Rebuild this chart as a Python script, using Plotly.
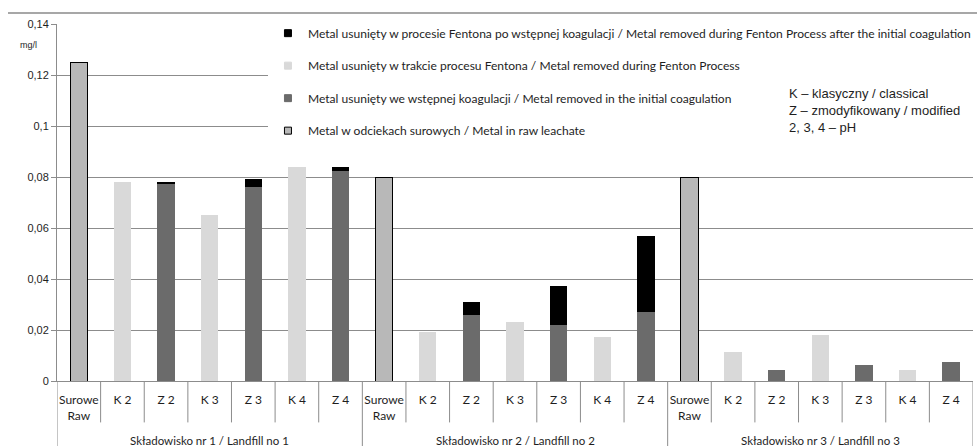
import plotly.graph_objects as go

# ---- data -------------------------------------------------------------
groups = ["Składowisko nr 1 / Landfill no 1",
          "Składowisko nr 2 / Landfill no 2",
          "Składowisko nr 3 / Landfill no 3"]
categories = ["Surowe<br>Raw", "K 2", "Z 2", "K 3", "Z 3", "K 4", "Z 4"]

# metal in raw leachate, one value per landfill (mg/l)
raw_leachate = [0.125, 0.080, 0.080]
# K variants (pH 2, 3, 4): metal removed during the Fenton process
fenton_only = [[0.0782, 0.0651, 0.0841],
               [0.0191, 0.0231, 0.0172],
               [0.0113, 0.0180, 0.0042]]
# Z variants (pH 2, 3, 4): metal removed in the initial coagulation
coagulation = [[0.0772, 0.0762, 0.0824],
               [0.0258, 0.0219, 0.0270],
               [0.0042, 0.0062, 0.0073]]
# Z variants (pH 2, 3, 4): metal removed by Fenton after the coagulation
fenton_after = [[0.0010, 0.0031, 0.0017],
                [0.0051, 0.0153, 0.0299],
                [None, None, None]]

y_ticks = [0, 0.02, 0.04, 0.06, 0.08, 0.10, 0.12, 0.14]
y_tick_labels = ["0", "0,02", "0,04", "0,06", "0,08", "0,1", "0,12", "0,14"]

legend_names = {
    "after": "Metal usunięty w procesie Fentona po wstępnej koagulacji / "
             "Metal removed during Fenton Process after the initial coagulation",
    "fenton": "Metal usunięty w trakcie procesu Fentona / Metal removed during Fenton Process",
    "coag": "Metal usunięty we wstępnej koagulacji / Metal removed in the initial coagulation",
    "raw": "Metal w odciekach surowych / Metal in raw leachate",
}
notes = ["K – klasyczny / classical",
         "Z – zmodyfikowany / modified",
         "2, 3, 4 – pH"]

# ---- styling ----------------------------------------------------------
C_RAW, C_LIGHT, C_DARK, C_BLACK = "#b8b8b8", "#d9d9d9", "#6b6b6b", "#000000"
C_LINE = "#8c8c8c"
LABEL_FONT = "Lato, 'Open Sans', sans-serif"
ARIAL = "'Liberation Sans', Arial, sans-serif"
TEXT = "#1e1e1e"

# ---- per-position series ----------------------------------------------
n_cat = len(categories)
xs, tick_text = [], []
raw_y, light_y, dark_y, black_y = [], [], [], []
for g in range(len(groups)):
    for c, cat in enumerate(categories):
        xs.append(g * n_cat + c)
        tick_text.append(cat)
        raw_y.append(raw_leachate[g] if c == 0 else None)
        is_k = c > 0 and c % 2 == 1
        is_z = c > 0 and c % 2 == 0
        k = (c - 1) // 2
        light_y.append(fenton_only[g][k] if is_k else None)
        dark_y.append(coagulation[g][k] if is_z else None)
        black_y.append(fenton_after[g][k] if is_z else None)

BAR_W = 0.4
fig = go.Figure()
fig.add_bar(x=xs, y=raw_y, width=BAR_W, showlegend=False,
            marker=dict(color=C_RAW, line=dict(color="black", width=1)))
fig.add_bar(x=xs, y=light_y, width=BAR_W, showlegend=False,
            marker=dict(color=C_LIGHT, line=dict(width=0)))
fig.add_bar(x=xs, y=dark_y, width=BAR_W, showlegend=False,
            marker=dict(color=C_DARK, line=dict(width=0)))
fig.add_bar(x=xs, y=black_y, width=BAR_W, showlegend=False,
            marker=dict(color=C_BLACK, line=dict(width=0)))

# legend swatches (small squares)
for key, col, outline in [("after", C_BLACK, C_BLACK), ("fenton", C_LIGHT, C_LIGHT),
                          ("coag", C_DARK, C_DARK), ("raw", C_RAW, "black")]:
    fig.add_scatter(x=[None], y=[None], mode="markers", name=legend_names[key],
                    legendgroup=key,
                    marker=dict(symbol="square", size=7, color=col,
                                line=dict(color=outline, width=1)))

# ---- axis decorations: category separators and group dividers ---------
shapes = []
n_total = len(xs)
for b in range(n_total + 1):
    xb = b - 0.5
    is_group_edge = b % n_cat == 0
    shapes.append(dict(type="line", xref="x", yref="paper",
                       x0=xb, x1=xb, y0=0, y1=-0.19 if is_group_edge else -0.116,
                       line=dict(color=C_LINE, width=1)))
# outer top border of the chart frame
shapes.append(dict(type="line", xref="paper", yref="paper", layer="below",
                   x0=-0.0535, x1=1.005, y0=1.031, y1=1.031,
                   line=dict(color="#8a8a8a", width=1.5)))

annotations = []
for g, name in enumerate(groups):
    annotations.append(dict(x=g * n_cat + (n_cat - 1) / 2, xref="x",
                            y=-0.166, yref="paper", text=name, showarrow=False,
                            xanchor="center", yanchor="middle",
                            font=dict(family=LABEL_FONT, size=11.5, color=TEXT)))
annotations.append(dict(x=-0.0306, xref="paper", y=0.942, yref="paper",
                        text="mg/l", showarrow=False, xanchor="center", yanchor="middle",
                        font=dict(family=ARIAL, size=9, color=TEXT)))
# key to the category codes
annotations.append(dict(x=0.797, xref="paper", y=0.757, yref="paper",
                        text="<br>".join(notes), showarrow=False, align="left",
                        xanchor="left", yanchor="middle",
                        font=dict(family=ARIAL, size=13, color=TEXT)))

fig.update_layout(
    width=977, height=446,
    margin=dict(l=57, r=4, t=24, b=65, autoexpand=False),
    barmode="stack",
    paper_bgcolor="white", plot_bgcolor="white",
    font=dict(family=LABEL_FONT, color=TEXT),
    showlegend=True,
    legend=dict(x=0.2303, xanchor="left", y=1.015, yanchor="top",
                bgcolor="white", borderwidth=0, tracegroupgap=13.5,
                font=dict(family=LABEL_FONT, size=12.05, color=TEXT)),
    xaxis=dict(range=[-0.5, n_total - 0.5], tickmode="array", tickvals=xs,
               ticktext=tick_text, showgrid=False, zeroline=False,
               showline=True, linecolor=C_LINE, linewidth=1, ticks="",
               ticklabelstandoff=8,
               tickfont=dict(family=LABEL_FONT, size=12, color=TEXT)),
    # upper bound nudged just past 0.14 so its gridline is kept
    yaxis=dict(range=[0, 0.1401], tickmode="array", tickvals=y_ticks,
               ticktext=y_tick_labels, showgrid=True, gridcolor=C_LINE, gridwidth=1,
               zeroline=False, showline=True, linecolor=C_LINE, linewidth=1,
               ticks="outside", ticklen=5, tickcolor=C_LINE,
               tickfont=dict(family=ARIAL, size=11, color=TEXT)),
    shapes=shapes, annotations=annotations,
)

fig.write_html("out.html")
